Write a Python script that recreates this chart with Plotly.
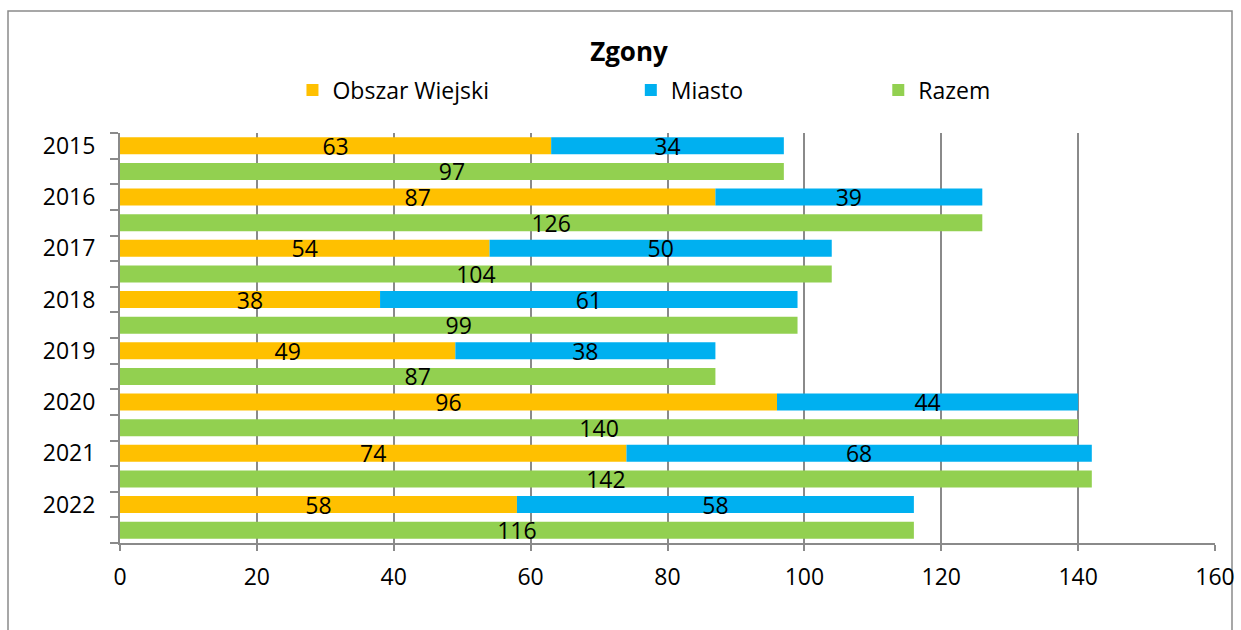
import plotly.graph_objects as go

years = ["2015", "2016", "2017", "2018", "2019", "2020", "2021", "2022"]
obszar_wiejski = [63, 87, 54, 38, 49, 96, 74, 58]
miasto = [34, 39, 50, 61, 38, 44, 68, 58]
razem = [97, 126, 104, 99, 87, 140, 142, 116]

ORANGE = "#FFC000"
BLUE = "#00B0F0"
GREEN = "#92D050"
GRID = "#8A8A8A"
FONT = "Open Sans"

# each year takes two rows: stacked bar on the first, total on the second
row_top = [2 * i for i in range(len(years))]
row_bottom = [2 * i + 1 for i in range(len(years))]
bar_w = 0.66

common = dict(
    orientation="h",
    width=bar_w,
    textposition="inside",
    insidetextanchor="middle",
    constraintext="none",
    textangle=0,
    textfont=dict(family=FONT, size=23, color="black"),
    marker_line=dict(width=0),
)

fig = go.Figure()
fig.add_trace(go.Bar(
    x=obszar_wiejski, y=row_top, name="Obszar Wiejski",
    marker_color=ORANGE, text=obszar_wiejski, legend="legend", **common,
))
fig.add_trace(go.Bar(
    x=miasto, y=row_top, base=obszar_wiejski, name="Miasto",
    marker_color=BLUE, text=miasto, legend="legend2", **common,
))
fig.add_trace(go.Bar(
    x=razem, y=row_bottom, name="Razem",
    marker_color=GREEN, text=razem, legend="legend3", **common,
))

leg = dict(
    orientation="h", yanchor="middle", y=1.105, xanchor="left",
    font=dict(family=FONT, size=23, color="black"),
    bgcolor="rgba(0,0,0,0)",
)

fig.update_layout(
    width=1241,
    height=630,
    margin=dict(l=120, r=26, t=133, b=87),
    paper_bgcolor="white",
    plot_bgcolor="white",
    barmode="overlay",
    showlegend=True,
    title=dict(
        text="<b>Zgony</b>", x=629 / 1241, xref="container", xanchor="center",
        y=1 - 52 / 630, yref="container", yanchor="middle",
        font=dict(family=FONT, size=26, color="black"),
    ),
    legend=dict(leg, x=0.1575),
    legend2=dict(leg, x=0.4665),
    legend3=dict(leg, x=0.6925),
    xaxis=dict(
        range=[0, 160], dtick=20, tick0=0, automargin=False,
        showgrid=True, gridcolor=GRID, gridwidth=2,
        zeroline=False, showline=True, linecolor=GRID, linewidth=2,
        ticks="outside", ticklen=6, tickcolor=GRID, tickwidth=2,
        ticklabelstandoff=6,
        tickfont=dict(family=FONT, size=23, color="black"),
    ),
    yaxis=dict(
        range=[2 * len(years) - 0.5, -0.5], automargin=False,
        tickvals=row_top, ticktext=years,
        ticks="outside", ticklen=18, tickcolor="rgba(0,0,0,0)",
        minor=dict(
            tickvals=[k - 0.5 for k in range(2 * len(years) + 1)],
            ticks="outside", ticklen=8, tickcolor=GRID, tickwidth=2,
            showgrid=False,
        ),
        showgrid=False, zeroline=False,
        showline=True, linecolor=GRID, linewidth=2,
        tickfont=dict(family=FONT, size=23, color="black"),
    ),
    shapes=[dict(
        type="rect", xref="paper", yref="paper",
        x0=(8 - 120) / 1095, x1=(1232 - 120) / 1095,
        y0=-0.5, y1=1 + (133 - 11) / 410,
        line=dict(color=GRID, width=1.5), fillcolor="rgba(0,0,0,0)",
        layer="below",
    )],
)

fig.write_html(
    "out.html",
    config={"displayModeBar": False},
    post_script="document.body.style.margin='0';",
)
